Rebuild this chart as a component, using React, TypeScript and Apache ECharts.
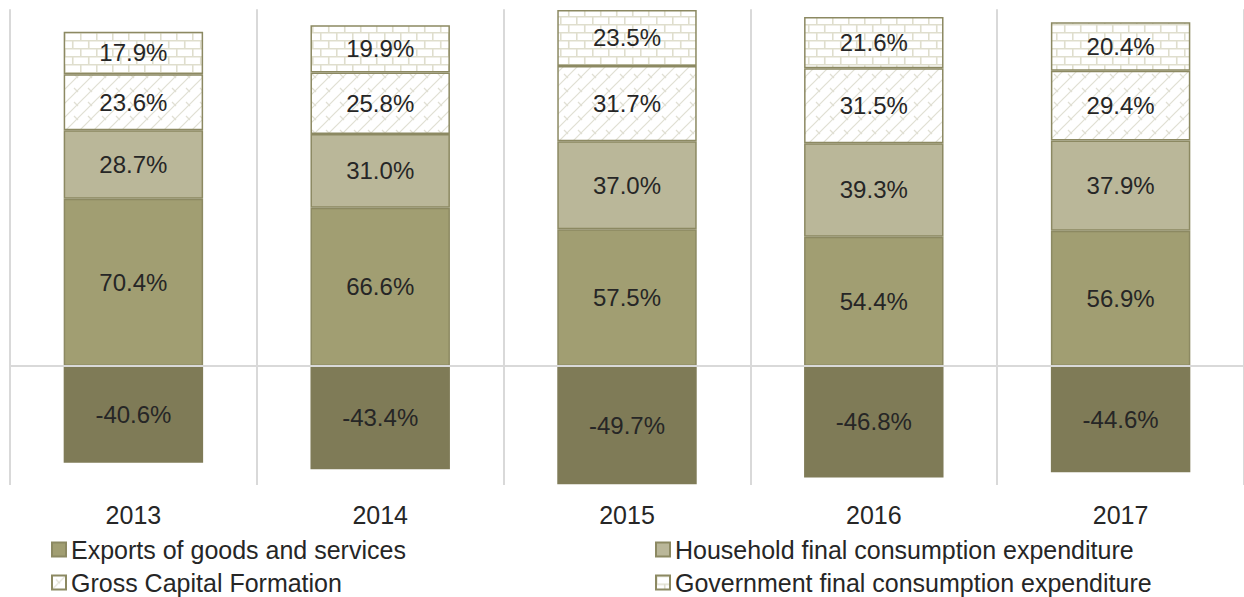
import React, { useEffect, useRef } from "react";
import * as echarts from "echarts";

const years = ["2013", "2014", "2015", "2016", "2017"];
const imports = [-40.6, -43.4, -49.7, -46.8, -44.6];
const exportsGS = [70.4, 66.6, 57.5, 54.4, 56.9];
const household = [28.7, 31.0, 37.0, 39.3, 37.9];
const gcf = [23.6, 25.8, 31.7, 31.5, 29.4];
const government = [17.9, 19.9, 23.5, 21.6, 20.4];

const FONT = "'Liberation Sans', Arial, sans-serif";

function svgUrl(svg: string) {
  return "data:image/svg+xml;charset=utf-8," + encodeURIComponent(svg);
}

const brickTile = svgUrl(
  `<svg xmlns="http://www.w3.org/2000/svg" width="16" height="16">` +
    `<rect width="16" height="16" fill="#ffffff"/>` +
    `<path d="M0 0.75H16M0 8.75H16M0.75 0V8M8.75 8V16" stroke="#dfdecd" stroke-width="1.6" fill="none"/>` +
    `</svg>`
);

const diagTile = svgUrl(
  `<svg xmlns="http://www.w3.org/2000/svg" width="14" height="14">` +
    `<rect width="14" height="14" fill="#ffffff"/>` +
    `<path d="M0 14L14 0M-2 2L2 -2M12 16L16 12M4 4L8 8" stroke="#e0dfd3" stroke-width="1.2" fill="none"/>` +
    `</svg>`
);

const labelStyle = {
  show: true,
  position: "inside" as const,
  fontSize: 24,
  color: "#262626",
  fontFamily: FONT,
  formatter: (p: any) => Number(p.value).toFixed(1) + "%",
};

function legendItem(name: string, left: number, top: number) {
  return {
    left,
    top,
    padding: 0,
    icon: "rect",
    itemWidth: 14,
    itemHeight: 14,
    data: [name],
    textStyle: { fontSize: 25, color: "#262626", fontFamily: FONT },
  };
}

export default function App() {
  const ref = useRef<HTMLDivElement>(null);
  useEffect(() => {
    if (!ref.current) return;
    const chart = echarts.init(ref.current, null, { renderer: "svg" });
    const border = "#8c8962";
    chart.setOption({
      animation: false,
      grid: { left: 10, width: 1242, top: 9.3, bottom: 112, containLabel: false },
      legend: [
        legendItem("Exports of goods and services", 51, 537),
        legendItem("Gross Capital Formation", 51, 570),
        legendItem("Household final consumption expenditure", 655, 537),
        legendItem("Government final consumption expenditure", 655, 570),
      ],
      xAxis: {
        type: "category",
        data: years,
        boundaryGap: true,
        axisLine: { show: false, onZero: false },
        axisTick: { show: false },
        axisLabel: { fontSize: 25, color: "#262626", fontFamily: FONT, margin: 17 },
        splitLine: { show: true, lineStyle: { color: "#d9d9d9", width: 2 } },
      },
      yAxis: {
        type: "value",
        min: -50,
        max: 150,
        show: false,
        splitLine: { show: false },
      },
      series: [
        {
          name: "Imports of goods and services",
          type: "bar",
          stack: "total",
          barCategoryGap: "43.5%",
          data: imports,
          itemStyle: { color: "#7f7b57", borderWidth: 0 },
          label: labelStyle,
          markLine: {
            silent: true,
            symbol: "none",
            label: { show: false },
            lineStyle: { color: "#d9d9d9", width: 2, type: "solid" },
            data: [{ yAxis: 0 }],
          },
        },
        {
          name: "Exports of goods and services",
          type: "bar",
          stack: "total",
          data: exportsGS,
          itemStyle: { color: "#a19e72", borderColor: border, borderWidth: 1.5 },
          label: labelStyle,
        },
        {
          name: "Household final consumption expenditure",
          type: "bar",
          stack: "total",
          data: household,
          itemStyle: { color: "#bab799", borderColor: border, borderWidth: 1.5 },
          label: labelStyle,
        },
        {
          name: "Gross Capital Formation",
          type: "bar",
          stack: "total",
          data: gcf,
          itemStyle: {
            color: { image: diagTile, repeat: "repeat" },
            borderColor: border,
            borderWidth: 1.5,
          },
          label: labelStyle,
        },
        {
          name: "Government final consumption expenditure",
          type: "bar",
          stack: "total",
          data: government,
          itemStyle: {
            color: { image: brickTile, repeat: "repeat" },
            borderColor: border,
            borderWidth: 1.5,
          },
          label: labelStyle,
        },
      ],
    });
    return () => chart.dispose();
  }, []);
  return (
    <div
      ref={ref}
      style={{ position: "absolute", left: 0, top: 0, width: 1244, height: 597 }}
    />
  );
}
